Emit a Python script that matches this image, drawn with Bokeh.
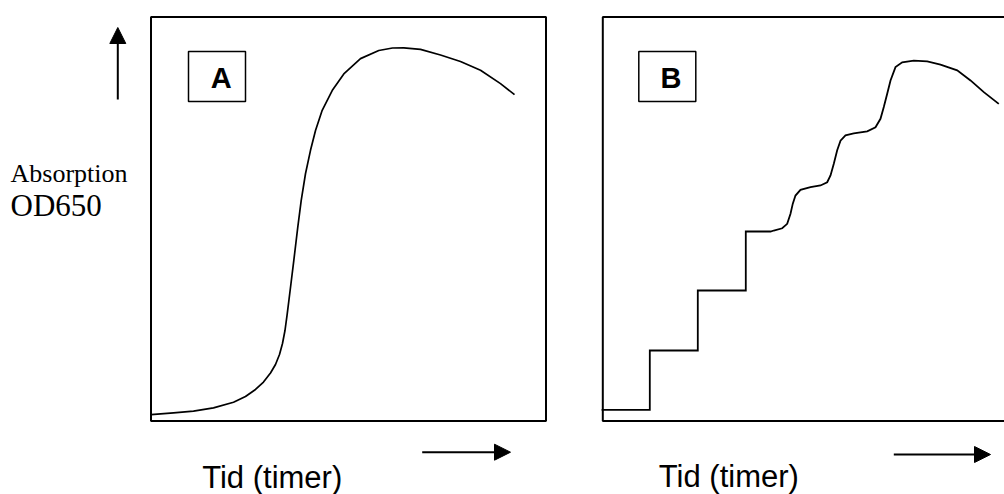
from bokeh.plotting import figure
from bokeh.models import Range1d, Arrow, NormalHead
from bokeh.core.properties import value
from bokeh.embed import file_html
from bokeh.resources import INLINE

# ---------------- data (relative time units, OD650 relative) ----------------
# Panel A: normal growth curve
time_a = [0.0, 0.570, 1.076, 1.582, 2.089, 2.392, 2.646, 2.848, 3.025, 3.152,
          3.253, 3.329, 3.392, 3.443, 3.494, 3.544, 3.615, 3.716, 3.803, 3.911,
          4.038, 4.165, 4.334, 4.587, 4.881, 5.304, 5.767, 6.114, 6.400, 6.823,
          7.329, 7.835, 8.342, 8.848, 9.203]
od_a = [0.016, 0.0203, 0.0245, 0.0324, 0.0463, 0.0606, 0.0780, 0.0965, 0.1188, 0.1399,
        0.1646, 0.1918, 0.2240, 0.2611, 0.3007, 0.3403, 0.397, 0.480, 0.546, 0.612,
        0.670, 0.719, 0.769, 0.818, 0.859, 0.897, 0.917, 0.9233, 0.9238, 0.920,
        0.906, 0.890, 0.868, 0.835, 0.808]

# Panel B: synchronised (stepwise) growth
time_b = [-0.03, 1.19, 1.19, 2.405, 2.405, 3.62, 3.62, 4.246, 4.329, 4.542, 4.668,
          4.752, 4.810, 4.878, 5.005, 5.258, 5.511, 5.681, 5.765, 5.848, 5.934,
          6.018, 6.144, 6.354, 6.694, 6.904, 7.030, 7.114, 7.200, 7.284, 7.410,
          7.580, 7.873, 8.213, 8.549, 8.972, 9.309, 9.646, 10.025]
od_b = [0.0277, 0.0277, 0.1745, 0.1745, 0.323, 0.323, 0.469, 0.469, 0.4715, 0.477, 0.488,
        0.513, 0.538, 0.558, 0.572, 0.579, 0.583, 0.591, 0.608, 0.637, 0.670,
        0.694, 0.707, 0.712, 0.717, 0.727, 0.748, 0.777, 0.810, 0.843, 0.876,
        0.888, 0.892, 0.890, 0.882, 0.868, 0.843, 0.814, 0.785]

panel_labels = ["A", "B"]
y_label_small = "Absorption"
y_label_big = "OD650"
x_label = "Tid (timer)"

# ---------------- layout (picture pixel coordinates) ----------------
W, H = 1004, 494
PX_PER_T = 39.5
PX_PER_OD = 404.0
A_X0 = 150.5
B_X0 = 602.3
Y0 = 420.5

p = figure(width=W, height=H,
           x_range=Range1d(0, W), y_range=Range1d(H, 0),
           output_backend="svg", toolbar_location=None,
           x_axis_location=None, y_axis_location=None,
           min_border=0, outline_line_color=None,
           background_fill_color="white", border_fill_color="white")
p.grid.visible = False

p.extra_x_ranges = {
    "tA": Range1d((0 - A_X0) / PX_PER_T, (W - A_X0) / PX_PER_T),
    "tB": Range1d((0 - B_X0) / PX_PER_T, (W - B_X0) / PX_PER_T),
}
p.extra_y_ranges = {"od": Range1d((Y0 - H) / PX_PER_OD, Y0 / PX_PER_OD)}

# panel frames
p.quad(left=[0], right=[10], bottom=[0], top=[1], x_range_name="tA", y_range_name="od",
       fill_color=None, line_color="black", line_width=2)
p.quad(left=[0], right=[11], bottom=[0], top=[1], x_range_name="tB", y_range_name="od",
       fill_color=None, line_color="black", line_width=2)

# curves
p.line(time_a, od_a, x_range_name="tA", y_range_name="od",
       line_color="black", line_width=1.7, line_join="round")
p.line(time_b, od_b, x_range_name="tB", y_range_name="od",
       line_color="black", line_width=1.8, line_join="miter")

# panel label boxes
p.quad(left=[188, 638.3], right=[245, 695.3], top=[51, 51], bottom=[101, 101],
       fill_color=None, line_color="black", line_width=1.5)
p.text(x=[220.8, 670.5], y=[77, 77], text=panel_labels,
       text_font=value("Liberation Sans"), text_font_style="bold",
       text_font_size="29px", text_align="center", text_baseline="alphabetic",
       text_color="black")

# y label
p.text(x=[10], y=[173], text=[y_label_small], text_font=value("Liberation Serif"),
       text_font_size="26px", text_align="left", text_baseline="alphabetic", text_color="black")
p.text(x=[10], y=[204.7], text=[y_label_big], text_font=value("Liberation Serif"),
       text_font_size="31px", text_align="left", text_baseline="alphabetic", text_color="black")

# x labels
p.text(x=[201.7, 658.3], y=[477, 476], text=[x_label, x_label],
       text_font=value("Liberation Sans"), text_font_size="31px",
       text_align="left", text_baseline="alphabetic", text_color="black")

# arrows
def head():
    return NormalHead(size=16, fill_color="black", line_color="black", line_width=1)

p.add_layout(Arrow(end=head(), x_start=117.3, y_start=99, x_end=117.3, y_end=27,
                   line_width=2, line_color="black"))
p.add_layout(Arrow(end=head(), x_start=421.7, y_start=451.7, x_end=510, y_end=451.7,
                   line_width=2, line_color="black"))
p.add_layout(Arrow(end=head(), x_start=893.3, y_start=454, x_end=990, y_end=454,
                   line_width=2, line_color="black"))

open("out.html", "w").write(file_html(p, INLINE))
